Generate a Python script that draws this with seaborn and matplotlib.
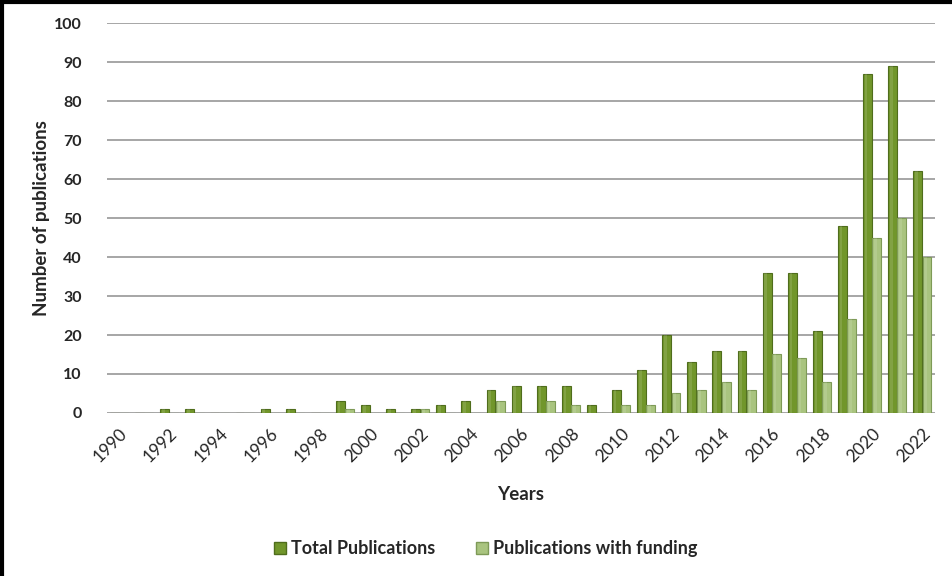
import numpy as np
import pandas as pd
import matplotlib
matplotlib.use("Agg")
import matplotlib.pyplot as plt
import seaborn as sns
from matplotlib.lines import Line2D

years = list(range(1990, 2023))
total_publications = [0, 0, 1, 1, 0, 0, 1, 1, 0, 3, 2, 1, 1, 2, 3, 6, 7,
                      7, 7, 2, 6, 11, 20, 13, 16, 16, 36, 36, 21, 48, 87, 89, 62]
funded_publications = [0, 0, 0, 0, 0, 0, 0, 0, 0, 1, 0, 0, 1, 0, 0, 3, 0,
                       3, 2, 0, 2, 2, 5, 6, 8, 6, 15, 14, 8, 24, 45, 50, 40]
series_names = ["Total Publications", "Publications with funding"]
y_ticks = list(range(0, 101, 10))

df = pd.DataFrame({
    "year": [str(y) for y in years] * 2,
    "count": total_publications + funded_publications,
    "series": [series_names[0]] * len(years) + [series_names[1]] * len(years),
})

sns.set_theme(style="white")
plt.rcParams["font.family"] = ["Lato", "DejaVu Sans"]

colors = {series_names[0]: "#71962b", series_names[1]: "#a9c47f"}
edges = {series_names[0]: "#4f6d1c", series_names[1]: "#7e9a57"}

fig = plt.figure(figsize=(9.52, 5.76), dpi=100)
ax = fig.add_axes([0.112, 0.283, 0.870, 0.677])

sns.barplot(data=df, x="year", y="count", hue="series", palette=colors,
            width=0.74, gap=0.04, ax=ax, legend=False, saturation=1)

# darker outline per series, plus a lighter highlight strip on each bar
for container, name in zip(ax.containers, series_names):
    for bar in container:
        bar.set_edgecolor(edges[name])
        bar.set_linewidth(0.8)
        h = bar.get_height()
        if h > 0:
            x0, w = bar.get_x(), bar.get_width()
            ax.add_patch(plt.Rectangle((x0 + w * 0.2, 0), w * 0.3, h,
                                       facecolor="white", alpha=0.12,
                                       linewidth=0, zorder=bar.get_zorder() + 0.1))

ax.set_ylim(0, 100)
ax.set_yticks(y_ticks)
ax.set_yticklabels([str(t) for t in y_ticks], fontsize=11.5, fontweight="bold")
ax.set_xlim(-0.5, len(years) - 0.5)
tick_pos = list(range(0, len(years), 2))
ax.set_xticks(tick_pos)
ax.set_xticklabels([str(years[i]) for i in tick_pos], rotation=45,
                   ha="right", rotation_mode="anchor", fontsize=12.5)
ax.tick_params(axis="y", length=0, pad=18)
ax.tick_params(axis="x", length=0, pad=9)

ax.yaxis.grid(True, color="#a6a6a6", linewidth=1.4)
ax.set_axisbelow(True)
for s in ax.spines.values():
    s.set_visible(False)

ax.set_xlabel("Years", fontsize=13.5, fontweight="bold", labelpad=15)
ax.set_ylabel("Number of publications", fontsize=13.5, fontweight="bold", labelpad=3)

handles = [Line2D([0], [0], marker="s", linestyle="none", markersize=8,
                  markerfacecolor=colors[n], markeredgecolor=edges[n]) for n in series_names]
fig.legend(handles, series_names, loc="center", bbox_to_anchor=(0.51, 0.048),
           ncol=2, frameon=False, prop={"weight": "bold", "size": 13},
           handlelength=0.7, handletextpad=0.3, columnspacing=2.2)

# outer frame along the top and left edges
fig.add_artist(Line2D([0, 1], [0.997, 0.997], transform=fig.transFigure,
                      color="black", linewidth=3))
fig.add_artist(Line2D([0.002, 0.002], [0, 1], transform=fig.transFigure,
                      color="black", linewidth=3))

fig.savefig("out.png", dpi=100)
